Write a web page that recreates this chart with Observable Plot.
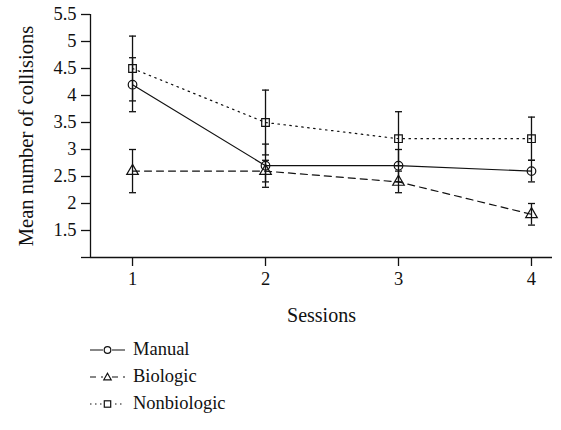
<!DOCTYPE html>
<html>
<head>
<meta charset="utf-8">
<script src="https://cdn.jsdelivr.net/npm/d3@7"></script>
<script src="https://cdn.jsdelivr.net/npm/@observablehq/plot@0.6"></script>
<style>
  html, body { margin: 0; padding: 0; background: #fff; }
  #chart svg { display: block; }
  #chart svg text { font-family: "Liberation Serif", serif !important; }
  .legend { font-family: "Liberation Serif", serif; font-size: 18.5px; color: #111; padding-top: 6px; }
  .legend .row { height: 27px; display: flex; align-items: center; }
  .legend svg { margin-left: 90px; margin-right: 8px; display: block; }
</style>
</head>
<body>
<div id="chart"></div>
<div class="legend" id="legend"></div>
<script>
const sessions = [1, 2, 3, 4];
const seriesNames = ["Manual", "Biologic", "Nonbiologic"];
const manual = [4.2, 2.7, 2.7, 2.6];
const manualErr = [0.5, 0.4, 0.3, 0.2];
const biologic = [2.6, 2.6, 2.4, 1.8];
const biologicErr = [0.4, 0.2, 0.2, 0.2];
const nonbiologic = [4.5, 3.5, 3.2, 3.2];
const nonbiologicErr = [0.6, 0.6, 0.5, 0.4];
const yTicks = [1, 1.5, 2, 2.5, 3, 3.5, 4, 4.5, 5, 5.5];

const styles = {
  Manual: {symbol: "circle", dash: null},
  Biologic: {symbol: "triangle", dash: "7,5"},
  Nonbiologic: {symbol: "square", dash: "1.5,4.5"}
};

const values = {Manual: [manual, manualErr], Biologic: [biologic, biologicErr], Nonbiologic: [nonbiologic, nonbiologicErr]};
const rows = [];
for (const s of seriesNames) {
  const [v, e] = values[s];
  sessions.forEach((x, i) => rows.push({series: s, x, y: v[i], lo: v[i] - e[i], hi: v[i] + e[i]}));
}

const cap = {draw(ctx) { ctx.moveTo(-3.5, 0); ctx.lineTo(3.5, 0); }};
const font = "Liberation Serif, serif";

const marks = [];
for (const s of seriesNames) {
  const d = rows.filter(r => r.series === s);
  marks.push(Plot.line(d, {x: "x", y: "y", stroke: "#111", strokeWidth: 1.2, strokeDasharray: styles[s].dash || undefined}));
}
marks.push(Plot.ruleX(rows, {x: "x", y1: "lo", y2: "hi", stroke: "#111", strokeWidth: 1.3}));
marks.push(Plot.dot(rows, {x: "x", y: "lo", symbol: cap, stroke: "#111", strokeWidth: 1.3}));
marks.push(Plot.dot(rows, {x: "x", y: "hi", symbol: cap, stroke: "#111", strokeWidth: 1.3}));
for (const s of seriesNames) {
  const d = rows.filter(r => r.series === s);
  marks.push(Plot.dot(d, {x: "x", y: "y", symbol: styles[s].symbol, r: 4.3, stroke: "#111", fill: "none", strokeWidth: 1.2}));
}
marks.push(Plot.ruleY([1], {stroke: "#111", strokeWidth: 1.3}));
marks.push(Plot.ruleX([0.684], {stroke: "#111", strokeWidth: 1.3, y1: 1, y2: 5.5}));
marks.push(Plot.axisY({ticks: yTicks, tickSize: 9, tickPadding: 5, tickFormat: d => d === 1 ? "" : String(d), label: null, fontSize: 18.5, fontFamily: font, fill: "#111", strokeWidth: 1.3}));
marks.push(Plot.axisX({ticks: sessions, tickSize: 9, tickPadding: 5, tickFormat: d => String(d), label: null, fontSize: 18.5, fontFamily: font, fill: "#111", strokeWidth: 1.3}));
marks.push(Plot.text(["Mean number of collisions"], {frameAnchor: "left", rotate: -90, dx: -64, textAnchor: "middle", lineAnchor: "middle", fontSize: 20.5, fontFamily: font, fill: "#111"}));
marks.push(Plot.text(["Sessions"], {frameAnchor: "bottom", dy: 58, textAnchor: "middle", lineAnchor: "middle", fontSize: 20, fontFamily: font, fill: "#111"}));

const chart = Plot.plot({
  width: 561,
  height: 330,
  marginLeft: 90,
  marginRight: 9,
  marginTop: 14,
  marginBottom: 73,
  style: {fontFamily: font, color: "#111", background: "#fff"},
  x: {domain: [0.684, 4.158]},
  y: {domain: [1, 5.5]},
  marks
});
document.getElementById("chart").appendChild(chart);

const legend = document.getElementById("legend");
const symPaths = {
  circle: '<circle cx="17.5" cy="7" r="3.3" fill="none" stroke="#111" stroke-width="1.2"/>',
  triangle: '<path d="M17.5,3.3 L21.2,9.8 L13.8,9.8 Z" fill="none" stroke="#111" stroke-width="1.2"/>',
  square: '<rect x="14.3" y="3.8" width="6.4" height="6.4" fill="none" stroke="#111" stroke-width="1.2"/>'
};
for (const s of seriesNames) {
  const st = styles[s];
  const dash = st.dash ? (s === "Biologic" ? ' stroke-dasharray="6,5"' : ' stroke-dasharray="1.5,3.5"') : "";
  const row = document.createElement("div");
  row.className = "row";
  row.innerHTML = `<svg width="35" height="14"><line x1="0" y1="7" x2="35" y2="7" stroke="#111" stroke-width="1.2"${dash}/>` +
    `<rect x="13" y="2" width="9" height="10" fill="#fff"/>${symPaths[st.symbol]}</svg><span>${s}</span>`;
  legend.appendChild(row);
}
</script>
</body>
</html>
